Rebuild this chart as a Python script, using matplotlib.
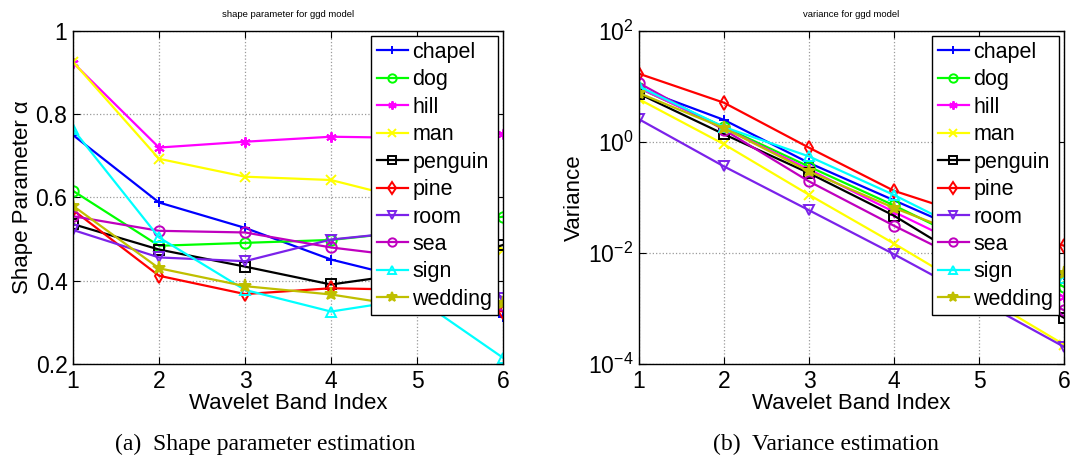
"""
GGD fit results per wavelet band: shape parameter and variance
for each test image, drawn side by side.
"""

import matplotlib
matplotlib.use('Agg')
import matplotlib.pyplot as plt
from matplotlib.ticker import FixedLocator, NullLocator

plt.rcParams['font.family'] = ['Liberation Sans', 'DejaVu Sans']
plt.rcParams['mathtext.fontset'] = 'custom'
plt.rcParams['mathtext.rm'] = 'Liberation Sans'
plt.rcParams['mathtext.it'] = 'Liberation Sans:italic'

bands = [1, 2, 3, 4, 5, 6]
images = ['chapel', 'dog', 'hill', 'man', 'penguin',
          'pine', 'room', 'sea', 'sign', 'wedding']

# estimated shape parameter alpha per band
alpha_chapel = [0.750, 0.588, 0.527, 0.451, 0.400, 0.314]
alpha_dog = [0.616, 0.484, 0.491, 0.498, 0.520, 0.554]
alpha_hill = [0.924, 0.720, 0.734, 0.746, 0.743, 0.753]
alpha_man = [0.926, 0.693, 0.650, 0.642, 0.590, 0.474]
alpha_penguin = [0.536, 0.475, 0.434, 0.391, 0.420, 0.486]
alpha_pine = [0.570, 0.412, 0.368, 0.382, 0.378, 0.326]
alpha_room = [0.522, 0.456, 0.447, 0.499, 0.520, 0.358]
alpha_sea = [0.555, 0.520, 0.516, 0.480, 0.455, 0.342]
alpha_sign = [0.764, 0.504, 0.378, 0.326, 0.358, 0.215]
alpha_wedding = [0.580, 0.430, 0.387, 0.367, 0.335, 0.346]

# estimated variance per band
var_chapel = [9.3, 2.5, 0.42, 0.089, 0.019, 0.0040]
var_dog = [9.3, 1.86, 0.36, 0.072, 0.0129, 0.00245]
var_hill = [9.5, 1.78, 0.32, 0.055, 0.010, 0.00162]
var_man = [5.9, 0.91, 0.112, 0.0148, 0.00182, 0.000224]
var_penguin = [7.4, 1.38, 0.275, 0.047, 0.0055, 0.00068]
var_pine = [17.0, 5.1, 0.79, 0.132, 0.042, 0.0135]
var_room = [2.57, 0.363, 0.059, 0.0095, 0.00141, 0.000204]
var_sea = [11.5, 1.66, 0.195, 0.031, 0.0054, 0.00093]
var_sign = [10.0, 1.86, 0.55, 0.111, 0.019, 0.0035]
var_wedding = [7.6, 1.78, 0.295, 0.065, 0.0166, 0.0043]

alphas = [alpha_chapel, alpha_dog, alpha_hill, alpha_man, alpha_penguin,
          alpha_pine, alpha_room, alpha_sea, alpha_sign, alpha_wedding]
variances = [var_chapel, var_dog, var_hill, var_man, var_penguin,
             var_pine, var_room, var_sea, var_sign, var_wedding]

# matlab-ish line specs
colors = ['#0000ff', '#00ff00', '#ff00ff', '#ffff00', '#000000',
          '#ff0000', '#7b22ea', '#bf00bf', '#00ffff', '#bfbf00']
markers = ['+', 'o', (6, 2, 0), 'x', 's', 'd', 'v', 'o', '^', '*']


def style_axes(ax):
    ax.tick_params(direction='in', length=5, width=0.8, labelsize=16.5,
                   top=True, right=True, pad=4)
    ax.grid(True, linestyle=':', color='#9a9a9a', linewidth=0.9)
    for sp in ax.spines.values():
        sp.set_linewidth(1.0)


def draw_lines(ax, series):
    for name, vals, c, m in zip(images, series, colors, markers):
        filled = (m == '*')
        ax.plot(bands, vals, color=c, marker=m, linewidth=1.6,
                markersize=7.5 if m != '*' else 9.5, markeredgewidth=1.4,
                markerfacecolor=c if filled else 'none', label=name)
    leg = ax.legend(loc='upper right', fontsize=15.5, numpoints=1,
                    markerscale=0.8, handlelength=1.45, handletextpad=0.2,
                    labelspacing=0.3, borderpad=0.25, borderaxespad=0.25,
                    fancybox=False, framealpha=1, edgecolor='black')
    leg.get_frame().set_linewidth(1.0)


fig = plt.figure(figsize=(10.77, 4.61), dpi=100)

# shape parameter panel
ax1 = fig.add_axes([73 / 1077, 97 / 461, 430 / 1077, 333 / 461])
draw_lines(ax1, alphas)
ax1.set_xlim(1, 6)
ax1.set_ylim(0.2, 1.0)
ax1.set_xticks(bands)
ax1.set_yticks([0.2, 0.4, 0.6, 0.8, 1.0])
ax1.set_yticklabels(['0.2', '0.4', '0.6', '0.8', '1'])
style_axes(ax1)
ax1.set_xlabel('Wavelet Band Index', fontsize=16, labelpad=0)
ax1.set_ylabel('Shape Parameter α', fontsize=16, labelpad=2)
ax1.set_title('shape parameter for ggd model', fontsize=6.8, pad=10)

# variance panel
ax2 = fig.add_axes([639 / 1077, 97 / 461, 425 / 1077, 333 / 461])
draw_lines(ax2, variances)
ax2.set_yscale('log')
ax2.set_xlim(1, 6)
ax2.set_ylim(1e-4, 1e2)
ax2.set_xticks(bands)
ax2.yaxis.set_major_locator(FixedLocator([1e-4, 1e-2, 1e0, 1e2]))
ax2.yaxis.set_minor_locator(NullLocator())
style_axes(ax2)
ax2.set_xlabel('Wavelet Band Index', fontsize=16, labelpad=0)
ax2.set_ylabel('Variance', fontsize=16, labelpad=2)
ax2.set_title('variance for ggd model', fontsize=6.8, pad=10)

fig.text(265 / 1077, 1 - 444 / 461, '(a)  Shape parameter estimation',
         family=['Liberation Serif', 'DejaVu Serif'], fontsize=17,
         ha='center', va='center')
fig.text(826 / 1077, 1 - 444 / 461, '(b)  Variance estimation',
         family=['Liberation Serif', 'DejaVu Serif'], fontsize=17,
         ha='center', va='center')

fig.savefig('out.png', dpi=100)
